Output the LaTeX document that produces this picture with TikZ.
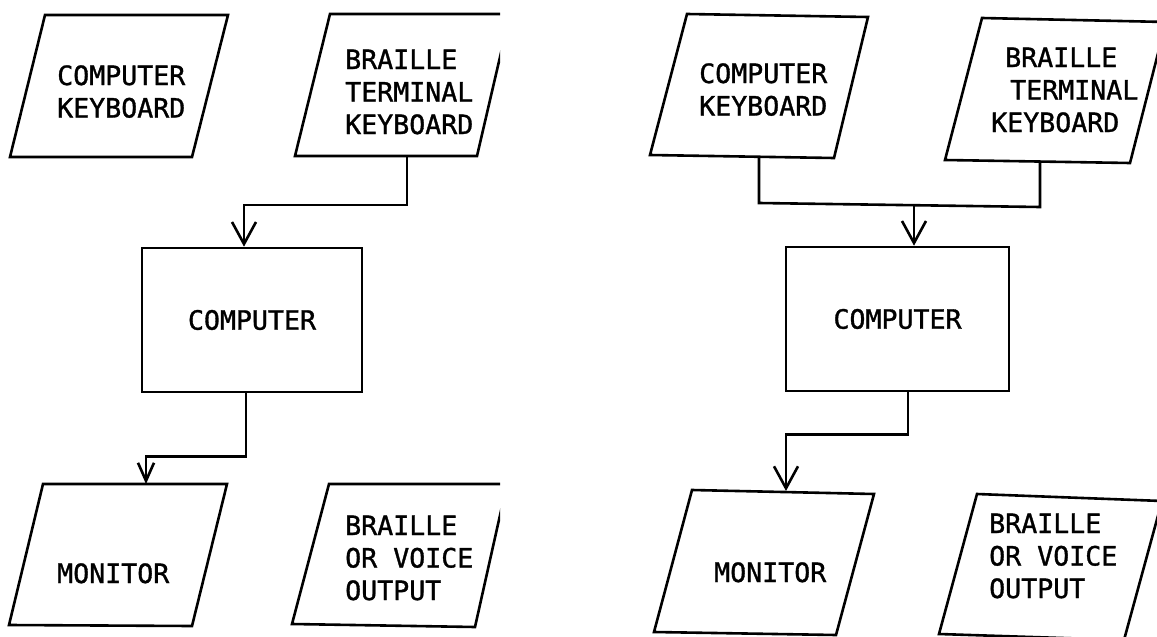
\documentclass[tikz,border=0pt]{standalone}
\usepackage{fontspec}
\setmonofont[FakeBold=1.2]{DejaVu Sans Mono}
\usetikzlibrary{arrows.meta}
\newcommand\txtstack[1]{\vtop{\baselineskip=32.5pt\halign{##\hfil\cr#1\crcr}}}
\tikzset{
  shp/.style={line width=2.6pt, line join=miter},
  conn/.style={line width=2.6pt},
  txt/.style={inner sep=0pt, anchor=base west, font=\fontsize{26.6pt}{32.5pt}\selectfont\ttfamily},
  cbox/.style={draw, line width=2.6pt, inner sep=0pt, font=\fontsize{26.6pt}{32.5pt}\selectfont\ttfamily},
  varr/.style={-{Straight Barb[length=22pt,width=24pt]}},
  varrs/.style={-{Straight Barb[length=18pt,width=16pt]}}
}
\begin{document}
\begin{tikzpicture}[x=1pt,y=-1pt]
\useasboundingbox (0,0) rectangle (1157,637);
\clip (0,0) rectangle (1157,637);
\fill[white] (0,0) rectangle (1157,637);

% ---------------- left diagram ----------------
\draw[shp] (45,15) -- (228,15) -- (192,157) -- (10,157) -- cycle;
\draw[shp] (43,484) -- (227,484) -- (192,626) -- (9,625) -- cycle;
\begin{scope}
  \clip (0,0) rectangle (500,637);
  \draw[shp] (330,14) -- (510,14) -- (477,156) -- (295,156) -- cycle;
  \draw[shp] (329,484) -- (507,484) -- (475,627) -- (292,624) -- cycle;
\end{scope}

\node[txt] (ckLt) at (57,85) {\txtstack{COMPUTER\cr KEYBOARD}};
\node[txt] (btkLt) at (345,69) {\txtstack{BRAILLE\cr TERMINAL\cr KEYBOARD}};
\node[txt] (monLtx) at (57,583) {MONITOR};
\node[txt] (bvoLt) at (345,535) {\txtstack{BRAILLE\cr OR VOICE\cr OUTPUT}};

\node[cbox, minimum width=220pt, minimum height=144pt] (compL) at (252,320) {COMPUTER};

\coordinate (btkLb) at (407,156);
\coordinate (monLt) at (146,484);
\draw[conn,varr] (btkLb) -- ++(0,49) -| ([xshift=-8pt]compL.north);
\draw[conn,varrs] ([xshift=-6pt]compL.south) -- ++(0,63) -| (monLt);

% ---------------- right diagram ----------------
\draw[shp] (687,14) -- (868,17) -- (834,158) -- (650,155) -- cycle;
\draw[shp] (982,18) -- (1166,22) -- (1130,163) -- (945,160) -- cycle;
\draw[shp] (692,490) -- (874,494) -- (836,635) -- (654,632) -- cycle;
\draw[shp] (977,494) -- (1162,501) -- (1124,640) -- (939,634) -- cycle;

\node[txt] (ckRt) at (699,83) {\txtstack{COMPUTER\cr KEYBOARD}};
\node[txt] (btkRt) at (991,67) {\txtstack{\kern14pt BRAILLE\cr \kern19pt TERMINAL\cr KEYBOARD}};
\node[txt] (monRtx) at (714,582) {MONITOR};
\node[txt] (bvoRt) at (989,533) {\txtstack{BRAILLE\cr OR VOICE\cr OUTPUT}};

\node[cbox, minimum width=223pt, minimum height=144pt] (compR) at (897.5,319) {COMPUTER};

\coordinate (ckRb) at (759,157);
\coordinate (btkRb) at (1040,161);
\coordinate (jR) at (914,205);
\coordinate (monRt) at (786,491);
\draw[conn] (ckRb) -- (759,203) -- (1040,207) -- (btkRb);
\draw[conn,varr] (jR) -- (jR |- compR.north);
\draw[conn,varr] ([xshift=10.5pt]compR.south) -- ++(0,42) -| (monRt);
\end{tikzpicture}
\end{document}
